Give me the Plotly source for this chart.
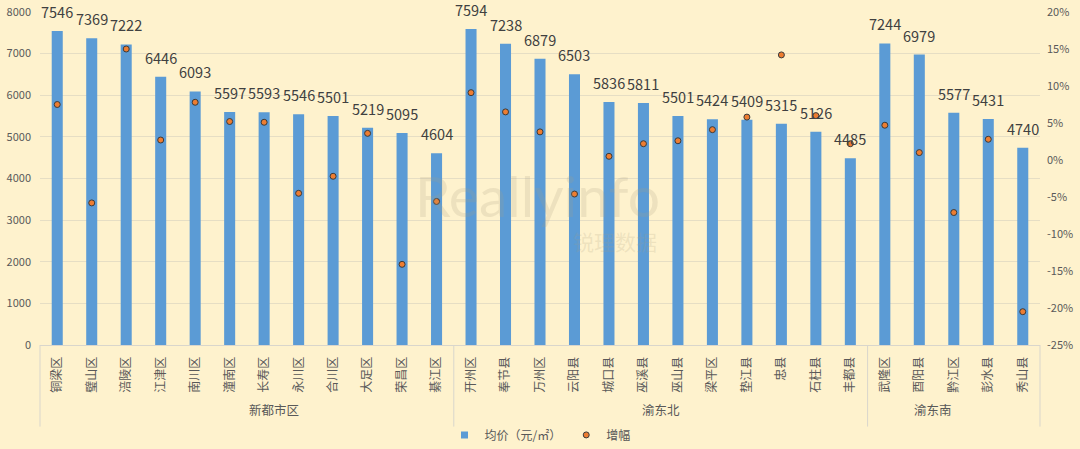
import plotly.graph_objects as go

districts = ["铜梁区", "璧山区", "涪陵区", "江津区", "南川区", "潼南区", "长寿区", "永川区", "合川区",
             "大足区", "荣昌区", "綦江区",
             "开州区", "奉节县", "万州区", "云阳县", "城口县", "巫溪县", "巫山县", "梁平区", "垫江县",
             "忠县", "石柱县", "丰都县",
             "武隆区", "酉阳县", "黔江区", "彭水县", "秀山县"]
groups = ["新都市区", "渝东北", "渝东南"]
group_sizes = [12, 12, 5]
avg_price = [7546, 7369, 7222, 6446, 6093, 5597, 5593, 5546, 5501, 5219, 5095, 4604,
             7594, 7238, 6879, 6503, 5836, 5811, 5501, 5424, 5409, 5315, 5126, 4485,
             7244, 6979, 5577, 5431, 4740]
growth_pct = [7.5, -5.8, 15.0, 2.7, 7.8, 5.2, 5.1, -4.5, -2.2, 3.6, -14.1, -5.6,
              9.1, 6.5, 3.8, -4.6, 0.5, 2.2, 2.6, 4.1, 5.8, 14.2, 6.0, 2.2,
              4.7, 1.0, -7.1, 2.8, -20.5]
left_ticks = [0, 1000, 2000, 3000, 4000, 5000, 6000, 7000, 8000]
right_ticks = [-25, -20, -15, -10, -5, 0, 5, 10, 15, 20]

BG = "#FEF2CD"
GRID = "#E6DEC4"
TXT = "#595959"
FONT = "Noto Sans CJK SC"

fig = go.Figure()
fig.add_trace(go.Bar(
    x=districts, y=avg_price, name="均价（元/㎡）", showlegend=False,
    marker=dict(color="#5B9BD5", line=dict(width=0)),
    width=0.32, yaxis="y",
))
# legend proxy for the bar series (small square symbol as in the reference)
fig.add_trace(go.Scatter(
    x=[None], y=[None], name="均价（元/㎡）", mode="markers",
    marker=dict(color="#5B9BD5", size=7, symbol="square"), yaxis="y",
))
fig.add_trace(go.Scatter(
    x=districts, y=growth_pct, name="增幅", mode="markers",
    marker=dict(color="#ED7D31", size=6, line=dict(color="#3A3A3A", width=1)),
    yaxis="y2",
))

annotations = []
for d, v in zip(districts, avg_price):
    annotations.append(dict(x=d, y=v, xref="x", yref="y", text=str(v), showarrow=False,
                            yanchor="bottom", yshift=7,
                            font=dict(family=FONT, size=14.5, color="#404040")))

shapes = []
n = len(districts)
start = 0
bounds = [0]
for g, s in zip(groups, group_sizes):
    center = (start + start + s) / 2 / n
    annotations.append(dict(x=center, y=-0.195, xref="paper", yref="paper", text=g,
                            showarrow=False, yanchor="middle",
                            font=dict(family=FONT, size=12.5, color=TXT)))
    start += s
    bounds.append(start)
for b in bounds:
    shapes.append(dict(type="line", xref="paper", yref="paper", x0=b / n, x1=b / n,
                       y0=0, y1=-0.245, line=dict(color="#D9D6CC", width=1)))

# watermark
annotations.append(dict(x=0.497, y=0.45, xref="paper", yref="paper", text="Reallyinfo",
                        showarrow=False, font=dict(family="Lato", size=57, color="rgba(170,160,130,0.20)")))
annotations.append(dict(x=0.575, y=0.262, xref="paper", yref="paper", text="锐理数据",
                        showarrow=False, font=dict(family=FONT, size=21, color="rgba(170,160,130,0.20)")))

fig.update_layout(
    width=1080, height=449,
    margin=dict(l=39.5, r=40, t=12, b=104, autoexpand=False),
    paper_bgcolor=BG, plot_bgcolor=BG,
    font=dict(family=FONT, color=TXT),
    showlegend=True,
    legend=dict(orientation="h", x=0.5, xanchor="center", y=-0.27, yanchor="middle",
                font=dict(family=FONT, size=12, color=TXT), bgcolor="rgba(0,0,0,0)",
                itemwidth=30),
    annotations=annotations,
    shapes=shapes,
    xaxis=dict(type="category", range=[-0.5, n - 0.5], automargin=False,
               tickangle=-90, tickfont=dict(family=FONT, size=12, color=TXT),
               showline=True, linecolor="#D9D6CC", linewidth=1, ticks="", showgrid=False,
               ticklabelstandoff=6),
    yaxis=dict(range=[0, 8000], tickvals=left_ticks, ticktext=[str(t) for t in left_ticks],
               automargin=False, showgrid=True, gridcolor=GRID, gridwidth=1, zeroline=False,
               tickfont=dict(family=FONT, size=11, color=TXT), ticklabelstandoff=8),
    yaxis2=dict(range=[-25, 20], overlaying="y", side="right", tickvals=right_ticks,
                automargin=False,
                ticktext=[f"{t}%" for t in right_ticks], showgrid=False, zeroline=False,
                tickfont=dict(family=FONT, size=11, color=TXT), ticklabelstandoff=6),
)

fig.write_html("out.html", config={"displayModeBar": False},
               post_script="document.body.style.margin='0';")
